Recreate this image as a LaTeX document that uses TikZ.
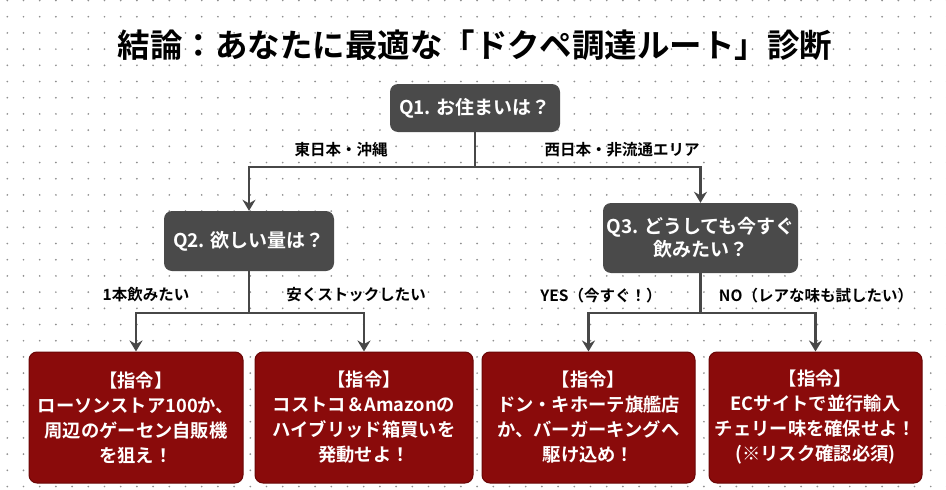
\documentclass[tikz,border=0pt]{standalone}
\usepackage{fontspec}
\setmainfont{Noto Sans CJK JP}[BoldFont={* Bold}]
\usetikzlibrary{arrows.meta}
\definecolor{qgray}{HTML}{4A4A4A}
\definecolor{lred}{HTML}{8A0B0B}
\definecolor{lredb}{HTML}{6A0606}
\definecolor{conn}{HTML}{474747}
\definecolor{dotc}{HTML}{8F8F8F}
\tikzset{
  qbox/.style={draw=none, fill=qgray, rounded corners=8pt, text=white, align=center,
    font=\fontsize{19}{23}\selectfont\bfseries, inner sep=0pt},
  leafbox/.style={draw=lredb, line width=1pt, fill=lred, rounded corners=8pt, text=white, align=center,
    font=\fontsize{18.3}{25}\selectfont\bfseries, inner sep=0pt, minimum height=131pt},
  lbl/.style={font=\fontsize{15.5}{18}\selectfont\bfseries, text=black, inner sep=1pt},
  link/.style={draw=conn, line width=2.8pt},
  arr/.style={link, -{Stealth[length=11pt,width=13pt]}},
}
\begin{document}
\begin{tikzpicture}[x=1pt,y=-1pt]
\useasboundingbox (0,0) rectangle (946,490);
\fill[white] (0,0) rectangle (946,490);
\foreach \i in {0,...,58}{
  \foreach \j in {0,...,30}{
    \fill[dotc] (7.3+16.2*\i, 0.5+16.2*\j) circle (0.95pt);
  }
}
\node[font=\fontsize{32.5}{38}\selectfont\bfseries] (title) at (475,45) {結論：あなたに最適な「ドクペ調達ルート」診断};

\node[qbox, minimum width=170pt, minimum height=48pt] (q1) at (475,108) {Q1. お住まいは？};
\node[qbox, minimum width=170pt, minimum height=60pt] (q2) at (249,241) {Q2. 欲しい量は？};
\node[qbox, minimum width=195pt, minimum height=70pt] (q3) at (700.5,238) {Q3. どうしても今すぐ\\飲みたい？};

\node[leafbox, minimum width=214pt] (l1) at (136,417.5) {【指令】\\ローソンストア100か、\\周辺のゲーセン自販機\\を狙え！};
\node[leafbox, minimum width=218pt] (l2) at (364,417.5) {【指令】\\コストコ＆Amazonの\\ハイブリッド箱買いを\\発動せよ！};
\node[leafbox, minimum width=213pt] (l3) at (588.5,417.5) {【指令】\\ドン・キホーテ旗艦店\\か、バーガーキングへ\\駆け込め！};
\node[leafbox, minimum width=213pt] (l4) at (815.5,417.5) {【指令】\\ECサイトで並行輸入\\チェリー味を確保せよ！\\(※リスク確認必須)};

\coordinate (j1) at (475,167);
\coordinate (j2) at (249,313);
\coordinate (j3) at (700.5,313);

\draw[link] (q1.south) -- (j1);
\draw[arr] (j1) -| (q2.north);
\draw[arr] (j1) -| (q3.north);
\draw[link] (q2.south) -- (j2);
\draw[arr] (j2) -| (l1.north);
\draw[arr] (j2) -| (l2.north);
\draw[link] (q3.south) -- (j3);
\draw[arr] (j3) -| (l3.north);
\draw[arr] (j3) -| (l4.north);

\node[lbl] (a1) at (341,150) {東日本・沖縄};
\node[lbl] (a2) at (622,150) {西日本・非流通エリア};
\node[lbl] (b1) at (146,295) {1本飲みたい};
\node[lbl] (b2) at (356,295) {安くストックしたい};
\node[lbl] (c1) at (601,296) {YES（今すぐ！）};
\node[lbl] (c2) at (816,296) {NO（レアな味も試したい）};
\end{tikzpicture}
\end{document}
